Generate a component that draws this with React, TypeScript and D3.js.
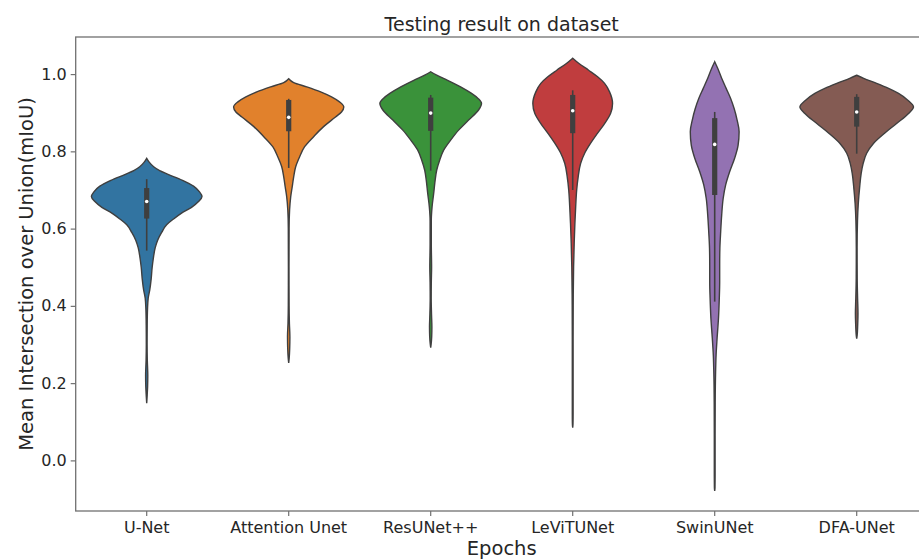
import React, { useEffect, useRef } from 'react'
import * as d3 from 'd3'

// model names along the x axis
const categories = ['U-Net', 'Attention Unet', 'ResUNet++', 'LeViTUNet', 'SwinUNet', 'DFA-UNet']
const colors = ['#3274a1', '#e1812c', '#3a923a', '#c03d3e', '#9372b2', '#845b53']

// kde profiles: [mIoU, density]
const uNetKde = [
  [0.782, 0], [0.772, 2.5], [0.76, 7], [0.75, 13], [0.74, 22], [0.725, 36], [0.71, 47], [0.695, 53],
  [0.683, 55.5], [0.67, 52], [0.655, 45], [0.64, 35], [0.625, 27], [0.61, 20], [0.59, 15], [0.57, 11],
  [0.55, 8.5], [0.52, 6.5], [0.5, 5.5], [0.47, 4.5], [0.44, 3], [0.42, 1.5], [0.39, 0.8], [0.35, 0.5],
  [0.3, 0.4], [0.26, 0.6], [0.22, 1.1], [0.19, 0.9], [0.165, 0.4], [0.148, 0],
]
const attentionKde = [
  [0.988, 0], [0.978, 5], [0.967, 18], [0.954, 32], [0.941, 43], [0.928, 51], [0.915, 55.3], [0.902, 53],
  [0.889, 47], [0.864, 35], [0.838, 25], [0.812, 16], [0.786, 11], [0.76, 7], [0.734, 5], [0.708, 3.5],
  [0.682, 2], [0.648, 0.9], [0.6, 0.4], [0.5, 0.3], [0.4, 0.4], [0.355, 0.7], [0.32, 1.2], [0.29, 1],
  [0.265, 0.5], [0.252, 0],
]
const resUNetKde = [
  [1.006, 0], [0.997, 6], [0.984, 17], [0.967, 30], [0.95, 41], [0.937, 47.5], [0.924, 51], [0.907, 48],
  [0.881, 38], [0.855, 28], [0.829, 20], [0.803, 13], [0.777, 9], [0.751, 6], [0.726, 4.5], [0.691, 3],
  [0.657, 1.4], [0.62, 0.6], [0.56, 0.6], [0.5, 0.9], [0.46, 0.6], [0.42, 0.5], [0.38, 0.8], [0.345, 1.2],
  [0.32, 1], [0.3, 0.4], [0.292, 0],
]
const leViTKde = [
  [1.041, 0], [1.028, 6], [1.01, 16], [0.993, 25], [0.976, 32], [0.954, 37], [0.924, 40], [0.898, 38],
  [0.872, 32], [0.847, 25], [0.821, 18], [0.795, 12], [0.769, 8], [0.734, 5.5], [0.7, 4], [0.657, 3],
  [0.613, 2.2], [0.562, 1.5], [0.5, 0.9], [0.4, 0.5], [0.3, 0.4], [0.2, 0.4], [0.12, 0.4], [0.095, 0.3],
  [0.085, 0],
]
const swinKde = [
  [1.032, 0], [1.015, 3], [0.989, 7], [0.963, 11.5], [0.937, 16], [0.911, 19.5], [0.881, 22.5], [0.851, 24.5],
  [0.816, 23.5], [0.782, 20], [0.747, 15], [0.713, 11], [0.678, 8.5], [0.635, 7], [0.592, 6], [0.549, 5.2],
  [0.506, 5], [0.462, 5], [0.419, 4.6], [0.368, 3.8], [0.316, 2.4], [0.273, 1.4], [0.229, 0.9], [0.15, 0.5],
  [0.05, 0.4], [-0.04, 0.4], [-0.07, 0.3], [-0.079, 0],
]
const dfaKde = [
  [0.997, 0], [0.989, 7], [0.976, 20], [0.963, 32], [0.95, 42], [0.933, 51], [0.915, 57], [0.898, 52],
  [0.872, 40], [0.847, 28], [0.821, 17], [0.795, 10], [0.769, 6.5], [0.743, 4.5], [0.708, 3], [0.665, 1.6],
  [0.62, 0.8], [0.55, 0.4], [0.47, 0.5], [0.42, 0.9], [0.38, 1.3], [0.35, 1], [0.325, 0.5], [0.315, 0],
]
const kdes = [uNetKde, attentionKde, resUNetKde, leViTKde, swinKde, dfaKde]

// inner box stats
const q1 = [0.626, 0.852, 0.853, 0.847, 0.687, 0.864]
const medians = [0.67, 0.888, 0.899, 0.905, 0.818, 0.902]
const q3 = [0.705, 0.933, 0.939, 0.946, 0.886, 0.941]
const whiskerLow = [0.543, 0.757, 0.75, 0.7, 0.411, 0.794]
const whiskerHigh = [0.728, 0.936, 0.946, 0.958, 0.902, 0.948]

const yTicks = [0, 0.2, 0.4, 0.6, 0.8, 1.0]

const chartWidth = 919
const chartHeight = 559
const font = 'DejaVu Sans, sans-serif'
const textColor = '#262626'

const ViolinPlot = () => {
  const ref = useRef(null)

  useEffect(() => {
    const root = d3.select(ref.current)
    root.selectAll('*').remove()

    const left = 75.7
    const right = 927.7
    const top = 37
    const bottom = 511

    const x = d3.scaleBand().domain(categories).range([left, right])
    const y = d3.scaleLinear().domain([-0.131, 1.096]).range([bottom, top])
    const maxDensity = d3.max(kdes.flat(), d => d[1])
    const w = d3.scaleLinear().domain([0, maxDensity]).range([0, x.bandwidth() * 0.4])

    // violins
    categories.forEach((c, i) => {
      const cx = x(c) + x.bandwidth() / 2
      const area = d3
        .area()
        .y(d => y(d[0]))
        .x0(d => cx - w(d[1]))
        .x1(d => cx + w(d[1]))
        .curve(d3.curveMonotoneY)
      root
        .append('path')
        .attr('d', area(kdes[i]))
        .attr('fill', colors[i])
        .attr('stroke', '#3f3f3f')
        .attr('stroke-width', 1.4)

      // whisker
      root
        .append('line')
        .attr('x1', cx)
        .attr('x2', cx)
        .attr('y1', y(whiskerLow[i]))
        .attr('y2', y(whiskerHigh[i]))
        .attr('stroke', '#3f3f3f')
        .attr('stroke-width', 1.6)
      // box
      root
        .append('rect')
        .attr('x', cx - 2.6)
        .attr('width', 5.2)
        .attr('y', y(q3[i]))
        .attr('height', y(q1[i]) - y(q3[i]))
        .attr('fill', '#3f3f3f')
      // median
      root
        .append('circle')
        .attr('cx', cx)
        .attr('cy', y(medians[i]))
        .attr('r', 1.8)
        .attr('fill', 'white')
    })

    // frame
    root
      .append('rect')
      .attr('x', left)
      .attr('y', top)
      .attr('width', right - left)
      .attr('height', bottom - top)
      .attr('fill', 'none')
      .attr('stroke', '#707070')
      .attr('stroke-width', 1.3)

    const yAxis = root
      .append('g')
      .attr('transform', `translate(${left},0)`)
      .call(d3.axisLeft(y).tickValues(yTicks).tickFormat(d3.format('.1f')).tickSize(5).tickPadding(4))
    yAxis.select('.domain').remove()

    const xAxis = root
      .append('g')
      .attr('transform', `translate(0,${bottom})`)
      .call(d3.axisBottom(x).tickSize(5).tickPadding(6))
    xAxis.select('.domain').remove()

    root
      .selectAll('.tick line')
      .attr('stroke', '#707070')
      .attr('stroke-width', 1.2)
    root
      .selectAll('.tick text')
      .attr('fill', textColor)
      .attr('font-family', font)
      .attr('font-size', '16px')

    // title
    root
      .append('text')
      .text('Testing result on dataset')
      .attr('x', (left + right) / 2)
      .attr('y', 31)
      .attr('text-anchor', 'middle')
      .attr('font-family', font)
      .attr('font-size', '19px')
      .attr('fill', textColor)

    // xlab
    root
      .append('text')
      .text('Epochs')
      .attr('x', (left + right) / 2)
      .attr('y', 555)
      .attr('text-anchor', 'middle')
      .attr('font-family', font)
      .attr('font-size', '19.5px')
      .attr('fill', textColor)

    // ylab
    root
      .append('text')
      .text('Mean Intersection over Union(mIoU)')
      .attr('transform', 'rotate(-90)')
      .attr('x', -(top + bottom) / 2)
      .attr('y', 33)
      .attr('text-anchor', 'middle')
      .attr('font-family', font)
      .attr('font-size', '19.5px')
      .attr('fill', textColor)
  }, [])

  return (
    <svg
      ref={ref}
      width={chartWidth}
      height={chartHeight}
      style={{ position: 'absolute', left: 0, top: 0, background: 'white' }}
    />
  )
}

export default function App() {
  return <ViolinPlot />
}
